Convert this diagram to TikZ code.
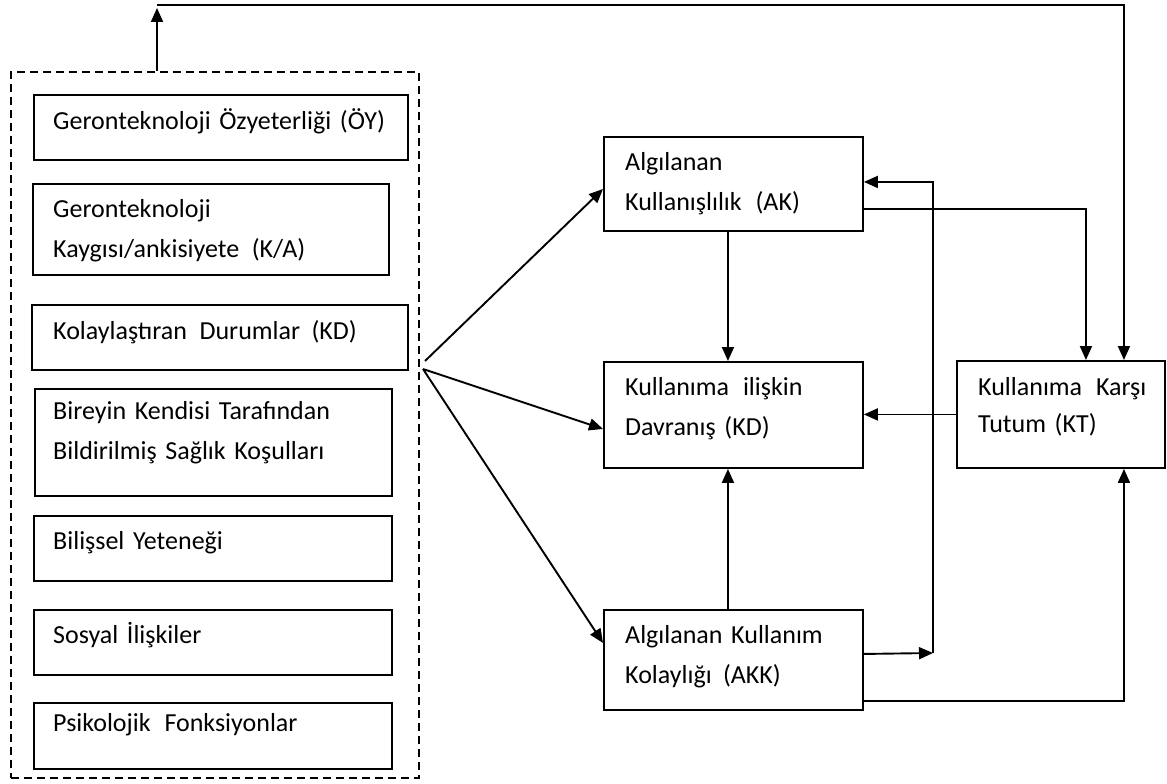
\documentclass[tikz,border=0pt]{standalone}
\usepackage{fontspec}
\setmainfont{Carlito}
\usetikzlibrary{arrows.meta,calc}
\begin{document}
\begin{tikzpicture}[x=1pt,y=-1pt,
  box/.style={draw, line width=1.9pt, rectangle, inner sep=0pt, anchor=north west},
  txt/.style={anchor=north west, inner sep=0pt, text width=400pt, align=left,
    font=\fontsize{26}{40}\selectfont, execute at begin node=\strut},
  arr/.style={line width=1.9pt, -{Triangle[length=14pt,width=12pt]}},
  dbox/.style={draw, line width=1.9pt, dash pattern=on 8pt off 5pt, rectangle, inner sep=0pt, anchor=north west}]
\useasboundingbox (0,0) rectangle (1167,784);
% dashed group
\node[dbox, minimum width=408pt, minimum height=706pt] (grp) at (10,71) {};
% left boxes
\node[box, minimum width=374pt, minimum height=65pt] (b1) at (33,94) {};
\node[box, minimum width=356pt, minimum height=91pt] (b2) at (32,183) {};
\node[box, minimum width=376pt, minimum height=65pt] (b3) at (31,304) {};
\node[box, minimum width=357pt, minimum height=107pt] (b4) at (34,388) {};
\node[box, minimum width=358pt, minimum height=65pt] (b5) at (33,515) {};
\node[box, minimum width=358pt, minimum height=65pt] (b6) at (33,609) {};
\node[box, minimum width=358pt, minimum height=66pt] (b7) at (33,702) {};
\node[txt] (t1) at ([shift={(20,7)}]b1.north west) {Geronteknoloji Özyeterliği (ÖY)};
\node[txt] (t2) at ([shift={(21,6)}]b2.north west) {Geronteknoloji\\Kaygısı/ankisiyete\hspace{0.15em} (K/A)};
\node[txt] (t3) at ([shift={(22,7)}]b3.north west) {Kolaylaştıran\hspace{0.15em} Durumlar\hspace{0.1em} (KD)};
\node[txt] (t4) at ([shift={(19,3)}]b4.north west) {Bireyin Kendisi Tarafından\\Bildirilmiş Sağlık Koşulları};
\node[txt] (t5) at ([shift={(20,6)}]b5.north west) {Bilişsel Yeteneği};
\node[txt] (t6) at ([shift={(20,6)}]b6.north west) {Sosyal İlişkiler};
\node[txt] (t7) at ([shift={(20,1)}]b7.north west) {Psikolojik\hspace{0.2em} Fonksiyonlar};
% right boxes
\node[box, minimum width=259pt, minimum height=94pt] (AK) at (603,136) {};
\node[box, minimum width=259pt, minimum height=106pt] (KD) at (603,361) {};
\node[box, minimum width=259pt, minimum height=100pt] (AKK) at (603,609) {};
\node[box, minimum width=208pt, minimum height=107pt] (KT) at (956,360) {};
\node[txt] (tAK) at ([shift={(22,6)}]AK.north west) {Algılanan\\Kullanışlılık\hspace{0.2em} (AK)};
\node[txt] (tKD) at ([shift={(22,6)}]KD.north west) {Kullanıma\hspace{0.2em} ilişkin\\Davranış (KD)};
\node[txt] (tAKK) at ([shift={(22,6)}]AKK.north west) {Algılanan Kullanım\\Kolaylığı\hspace{0.1em} (AKK)};
\node[txt] (tKT) at ([shift={(22,7)}]KT.north west) {Kullanıma\hspace{0.2em} Karşı\\[-3pt]Tutum (KT)};
% fan from group
\coordinate (fanA) at (425,361);
\coordinate (fanB) at (423,369);
\draw[arr] (fanA) -- ([yshift=-5pt]AK.west);
\draw[arr] (fanB) -- ([yshift=-14pt]KD.west);
\draw[arr] (fanB) -- ([yshift=17pt]AKK.west);
% vertical links
\draw[arr] ([xshift=-5.5pt]AK.south) -- ([xshift=-5.5pt]KD.north);
\draw[arr] ([xshift=-5.5pt]AKK.north) -- ([xshift=-5.5pt]KD.south);
% KT to KD
\draw[arr] (KT.west) -- (KT.west -| KD.east);
% AK to KT
\draw[arr] ([yshift=-25pt]AK.east) -| ([xshift=25pt]KT.north);
% AKK to AK
\coordinate (cR) at (933,653);
\draw[arr] ([yshift=6pt]AKK.east) -- (cR);
\draw[arr] (cR) |- ([yshift=2pt]AK.east);
% AKK to KT bottom
\draw[arr] ([yshift=-41pt]AKK.east) -| ([xshift=63pt]KT.south);
% group to KT via top
\coordinate (cTop) at (157,5);
\draw[arr] (grp.north -| cTop) -- ([yshift=-3pt]cTop);
\draw[arr] (cTop) -| ([xshift=63pt]KT.north);
\end{tikzpicture}
\end{document}
